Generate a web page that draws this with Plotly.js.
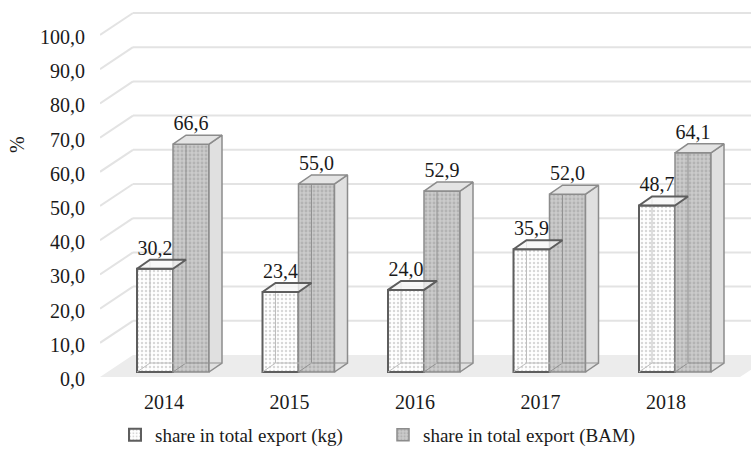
<!DOCTYPE html>
<html>
<head>
<meta charset="utf-8">
<script src="https://cdn.plot.ly/plotly-3.0.1.min.js"></script>
<style>html,body{margin:0;padding:0;background:#fff;}#chart{width:751px;height:459px;}</style>
</head>
<body>
<div id="chart"></div>
<script>
// ---- data ----
const years = ['2014', '2015', '2016', '2017', '2018'];
const kgShare = [30.2, 23.4, 24.0, 35.9, 48.7];
const bamShare = [66.6, 55.0, 52.9, 52.0, 64.1];
const yTicks = [0, 10, 20, 30, 40, 50, 60, 70, 80, 90, 100];
const seriesNames = ['share in total export (kg)', 'share in total export (BAM)'];

// ---- geometry (pixels -> axis units) ----
const FONT = '"Liberation Serif", "Times New Roman", Times, serif';
const W = 751, H = 459;
const PX_X = 125.5;          // px per category
const PX_Y = 3.42;           // px per percentage point
const ML = 100, MT = 5, MB = 81;
const X0PX = 173, Y0PX = 372; // pixel of category 0 centre / value 0 (bar front plane)
const xRange = [(ML - X0PX) / PX_X, (W - X0PX) / PX_X];
const yRange = [-(H - MB - Y0PX) / PX_Y, (Y0PX - MT) / PX_Y];

const BAR_W = 36 / PX_X;
const DX = 13 / PX_X, DY = 9 / PX_Y;          // bar depth
const WALL_DX = 33 / PX_X, WALL_DY = 22 / PX_Y; // floor depth
const FRONT_Y = -5 / PX_Y;                     // floor front edge relative to bar plane
const BACK_Y = FRONT_Y + WALL_DY;
const xLf = xRange[0];
const xRf = (740 - X0PX) / PX_X;

const idx = years.map((_, i) => i);
const fmt = v => v.toFixed(1).replace('.', ',');

// ---- frame shapes (below traces) ----
const shapes = [];
shapes.push({
  type: 'path', xref: 'x', yref: 'y', layer: 'below',
  path: `M${xLf},${FRONT_Y} L${xRf},${FRONT_Y} L${xRf + WALL_DX},${BACK_Y} L${xLf + WALL_DX},${BACK_Y} Z`,
  fillcolor: '#ececec', line: {width: 0}
});
yTicks.filter(v => v > 0).forEach(v => {
  shapes.push({type: 'line', xref: 'x', yref: 'y', layer: 'below',
    x0: xLf + WALL_DX, y0: v + BACK_Y, x1: xRange[1], y1: v + BACK_Y,
    line: {color: '#e3e3e3', width: 2}});
  shapes.push({type: 'line', xref: 'x', yref: 'y', layer: 'below',
    x0: xLf, y0: v + FRONT_Y, x1: xLf + WALL_DX, y1: v + BACK_Y,
    line: {color: '#e3e3e3', width: 2}});
});

// ---- 3D faces ----
function faces(vals, off) {
  const top = {x: [], y: []}, side = {x: [], y: []}, inner = {x: [], y: []};
  vals.forEach((v, i) => {
    const x0 = i + off, x1 = x0 + BAR_W;
    top.x.push(x0, x1, x1 + DX, x0 + DX, x0, null);
    top.y.push(v, v, v + DY, v + DY, v, null);
    side.x.push(x1, x1, x1 + DX, x1 + DX, x1, null);
    side.y.push(0, v, v + DY, DY, 0, null);
    inner.x.push(x0 + DX, x0 + DX, null, x0, x0 + DX, x1 + DX, null);
    inner.y.push(v + DY, DY, null, 0, DY, DY, null);
  });
  return {top, side, inner};
}
const fk = faces(kgShare, -BAR_W);
const fb = faces(bamShare, 0);

const traces = [
  {type: 'bar', name: seriesNames[0], x: idx, y: kgShare, width: BAR_W, offset: -BAR_W,
   marker: {color: '#ffffff', line: {color: '#5e5e5e', width: 2},
     pattern: {shape: '.', bgcolor: '#ffffff', fgcolor: '#d8d8d8', size: 4, solidity: 0.3}},
   hoverinfo: 'skip'},
  {type: 'bar', name: seriesNames[1], x: idx, y: bamShare, width: BAR_W, offset: 0,
   marker: {color: '#c8c8c8', line: {color: '#8c8c8c', width: 1.5},
     pattern: {shape: '.', bgcolor: '#cbcbcb', fgcolor: '#b3b3b3', size: 4, solidity: 0.4}},
   hoverinfo: 'skip'},
  {type: 'scatter', mode: 'lines', x: fb.side.x, y: fb.side.y, fill: 'toself', fillcolor: '#e0e0e0',
   line: {color: '#8c8c8c', width: 1.5}, showlegend: false, hoverinfo: 'skip'},
  {type: 'scatter', mode: 'lines', x: fb.inner.x, y: fb.inner.y,
   line: {color: '#919191', width: 1}, showlegend: false, hoverinfo: 'skip'},
  {type: 'scatter', mode: 'lines', x: fb.top.x, y: fb.top.y, fill: 'toself', fillcolor: '#e4e4e4',
   line: {color: '#8c8c8c', width: 1.5}, showlegend: false, hoverinfo: 'skip'},
  {type: 'scatter', mode: 'lines', x: fk.inner.x, y: fk.inner.y,
   line: {color: '#bdbdbd', width: 1}, showlegend: false, hoverinfo: 'skip'},
  {type: 'scatter', mode: 'lines', x: fk.top.x, y: fk.top.y, fill: 'toself', fillcolor: 'rgba(246,246,246,0.75)',
   line: {color: '#5e5e5e', width: 2}, showlegend: false, hoverinfo: 'skip'},
  {type: 'scatter', mode: 'text', x: idx.map(i => i - BAR_W / 2), y: kgShare.map(v => v + DY),
   text: kgShare.map(fmt), textposition: 'top center', cliponaxis: false,
   textfont: {family: FONT, size: 20, color: '#1a1a1a'}, showlegend: false, hoverinfo: 'skip'},
  {type: 'scatter', mode: 'text', x: idx.map(i => i + BAR_W / 2), y: bamShare.map(v => v + DY),
   text: bamShare.map(fmt), textposition: 'top center', cliponaxis: false,
   textfont: {family: FONT, size: 20, color: '#1a1a1a'}, showlegend: false, hoverinfo: 'skip'}
];

const layout = {
  width: W, height: H,
  margin: {l: ML, r: 0, t: MT, b: MB, autoexpand: false},
  paper_bgcolor: '#ffffff', plot_bgcolor: 'rgba(0,0,0,0)',
  separators: ', ',
  barmode: 'overlay',
  font: {family: FONT, size: 20, color: '#1a1a1a'},
  xaxis: {range: xRange, tickvals: idx, ticktext: years, showgrid: false, zeroline: false,
    showline: false, ticks: '', ticklabelstandoff: 10, ticklabelshift: -9, fixedrange: true,
    tickfont: {family: FONT, size: 20, color: '#1a1a1a'}},
  yaxis: {range: yRange, tickvals: yTicks, tickformat: '.1f', showgrid: false, zeroline: false,
    showline: false, ticks: '', ticklabelstandoff: 14, ticklabelshift: 7, fixedrange: true,
    tickfont: {family: FONT, size: 20, color: '#1a1a1a'}},
  shapes: shapes,
  annotations: [{text: '%', xref: 'paper', yref: 'paper', x: (17 - ML) / (W - ML), y: (H - MB - 145) / (H - MB - MT),
    xanchor: 'center', yanchor: 'middle',
    showarrow: false, textangle: -90, font: {family: FONT, size: 20, color: '#1a1a1a'}}],
  showlegend: true,
  legend: {orientation: 'h', x: (115 - ML) / (W - ML), xanchor: 'left', y: (H - MB - 416) / (H - MB - MT), yanchor: 'top',
    font: {family: FONT, size: 19, color: '#1a1a1a'}, entrywidth: 223, bgcolor: 'rgba(0,0,0,0)'}
};

Plotly.newPlot('chart', traces, layout, {displayModeBar: false, staticPlot: true});
</script>
</body>
</html>
